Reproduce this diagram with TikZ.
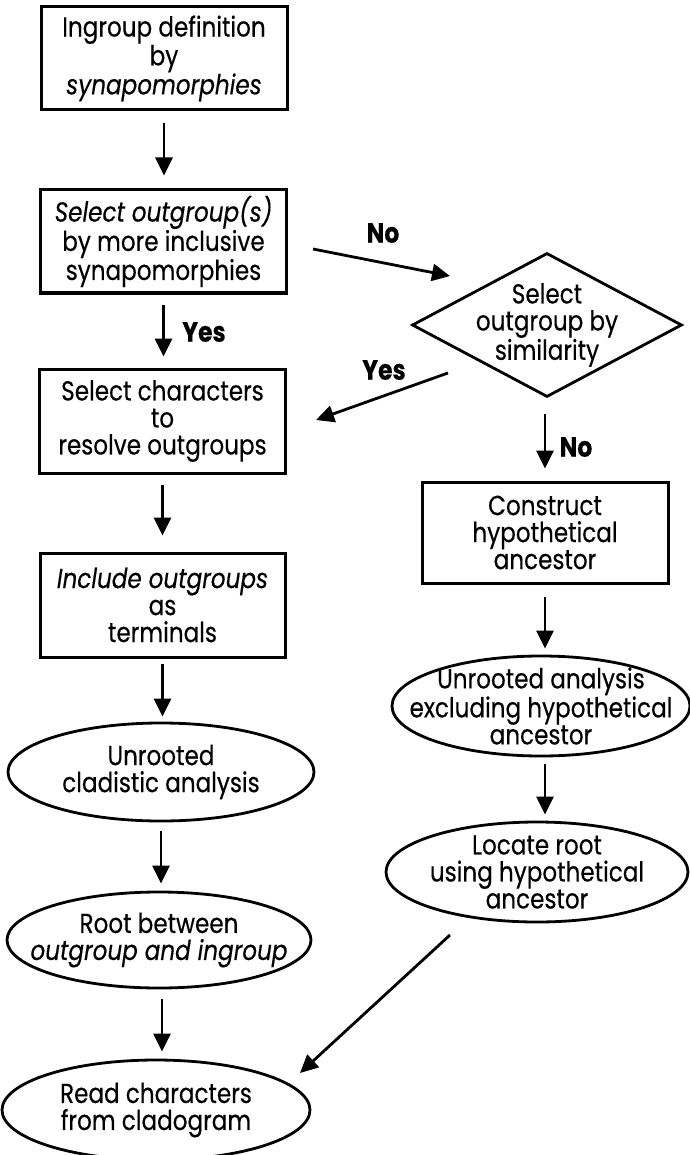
\documentclass[tikz,border=0pt]{standalone}
\usepackage{fontspec}
\setmainfont{Poppins}[FakeStretch=0.84, FakeBold=0.4]
\usetikzlibrary{shapes.geometric,arrows.meta}
\tikzset{
  boxnode/.style={draw, line width=3pt, minimum width=246pt, minimum height=103pt, inner sep=0pt},
  ellnode/.style={draw, ellipse, line width=2.8pt, inner sep=0pt},
  dianode/.style={draw, diamond, line width=2.8pt, inner sep=0pt},
  txt/.style={align=center, font=\fontsize{27.5}{27}\selectfont, inner sep=0pt},
  lbl/.style={font=\fontsize{28}{28}\selectfont\bfseries, inner sep=0pt},
  arr/.style={line width=2.8pt, -{Triangle[length=18pt,width=17pt]}},
}
\begin{document}
\begin{tikzpicture}[x=1pt,y=-1pt]
\useasboundingbox (0,0) rectangle (689,1155);
% left column
\node[boxnode] (b1) at (164,58.5) {};
\node[txt] (t1) at (b1) {Ingroup definition\\by\\\textit{synapomorphies}};
\node[boxnode] (b2) at (163.5,241.5) {};
\node[txt] (t2) at (b2) {\textit{Select outgroup(s)}\\by more inclusive\\synapomorphies};
\node[boxnode, minimum height=104pt] (b3) at (162.5,421) {};
\node[txt] (t3) at (b3) {Select characters\\to\\resolve outgroups};
\node[boxnode, minimum width=245pt, minimum height=104pt] (b4) at (162.5,605) {};
\node[txt] (t4) at (b4) {\textit{Include outgroups}\\as\\terminals};
\node[ellnode, minimum width=306pt, minimum height=98pt] (e5) at (161,772) {};
\node[txt] (t5) at (e5) {Unrooted\\cladistic analysis};
\node[ellnode, minimum width=304pt, minimum height=96pt] (e6) at (159,940) {};
\node[txt] (t6) at (e6) {Root between\\\textit{outgroup and ingroup}};
\node[ellnode, minimum width=308pt, minimum height=100pt] (e7) at (156,1110) {};
\node[txt] (t7) at (e7) {Read characters\\from cladogram};
% right column
\node[dianode, minimum width=270pt, minimum height=144pt] (d1) at (547,325) {};
\node[txt] (t8) at (d1) {Select\\outgroup by\\similarity};
\node[boxnode, minimum height=101pt] (b5) at (545,532.5) {};
\node[txt] (t9) at (b5) {Construct\\hypothetical\\ancestor};
\node[ellnode, minimum width=298pt, minimum height=100pt] (e8) at (541,706) {};
\node[txt] (t10) at (e8) {Unrooted analysis\\excluding hypothetical\\ancestor};
\node[ellnode, minimum width=302pt, minimum height=100pt] (e9) at (537,872) {};
\node[txt] (t11) at (e9) {Locate root\\using hypothetical\\ancestor};
% labels
\node[lbl] (l1) at (383,233) {No};
\node[lbl] (l2) at (204,332) {Yes};
\node[lbl] (l3) at (384,370) {Yes};
\node[lbl] (l4) at (576,447) {No};
% free ends of slanted connectors
\coordinate (noS) at (313,249);
\coordinate (noE) at (450,276);
\coordinate (yesS) at (448,373);
\coordinate (yesE) at (316,420);
\coordinate (diagS) at (450,935);
\coordinate (diagE) at (300,1073);
% vertical connectors
\draw[arr, shorten <=12pt, shorten >=13pt] (b1.south) -- (b1.south |- b2.north);
\draw[arr, shorten <=10pt, shorten >=11pt] (b2.south) -- (b2.south |- b3.north);
\draw[arr, shorten <=10pt, shorten >=16pt] (b3.south) -- (b3.south |- b4.north);
\draw[arr, shorten <=5pt, shorten >=5pt] (b4.south) -- (b4.south |- e5.north);
\draw[arr, shorten <=9pt, shorten >=7pt] (e5.south) -- (e5.south |- e6.north);
\draw[arr, shorten <=10pt, shorten >=7pt] ([xshift=3pt]e6.south) -- ([xshift=3pt]e6.south |- e7.north);
\draw[arr, shorten <=16pt, shorten >=12pt] ([xshift=-2pt]d1.south) -- ([xshift=-2pt]d1.south |- b5.north);
\draw[arr, shorten <=12pt, shorten >=6pt] (b5.south) -- (b5.south |- e8.north);
\draw[arr, shorten <=7pt, shorten >=6pt] ([xshift=4pt]e8.south) -- ([xshift=4pt]e8.south |- e9.north);
% slanted connectors
\draw[arr] (noS) -- (noE);
\draw[arr] (yesS) -- (yesE);
\draw[arr] (diagS) -- (diagE);
\end{tikzpicture}
\end{document}
